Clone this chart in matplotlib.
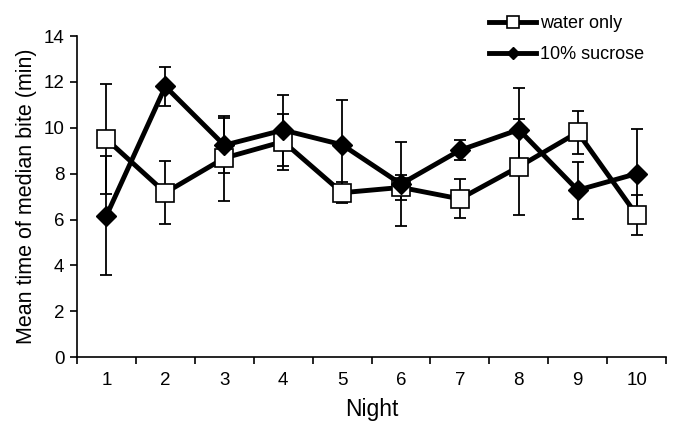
"""Mean time of median bite per night, water only vs 10% sucrose."""
import matplotlib
matplotlib.use("Agg")
import matplotlib.pyplot as plt
import numpy as np

plt.rcParams['font.family'] = ['Liberation Sans', 'DejaVu Sans']

nights = [1, 2, 3, 4, 5, 6, 7, 8, 9, 10]
water_mean = [9.5, 7.17, 8.68, 9.4, 7.17, 7.4, 6.9, 8.3, 9.8, 6.2]
water_err = [2.4, 1.38, 1.85, 1.22, 0.45, 0.55, 0.85, 2.1, 0.95, 0.87]
sucrose_mean = [6.17, 11.8, 9.24, 9.9, 9.26, 7.55, 9.02, 9.92, 7.28, 8.0]
sucrose_err = [2.6, 0.85, 1.2, 1.55, 1.95, 1.85, 0.43, 1.8, 1.25, 1.95]
y_ticks = [0, 2, 4, 6, 8, 10, 12, 14]

fig = plt.figure(figsize=(6.79, 4.34), dpi=100)
ax = fig.add_axes([0.1134, 0.177, 0.8676, 0.740])

x = np.array(nights)
ax.errorbar(x, water_mean, yerr=water_err, fmt='none', ecolor='black',
            elinewidth=1.3, capsize=4, capthick=1.3, zorder=2)
ax.errorbar(x, sucrose_mean, yerr=sucrose_err, fmt='none', ecolor='black',
            elinewidth=1.3, capsize=4, capthick=1.3, zorder=2)
ax.plot(x, water_mean, color='black', lw=3.5, marker='s', ms=13,
        mfc='white', mec='black', mew=1.2, label='water only', zorder=3)
ax.plot(x, sucrose_mean, color='black', lw=3.5, marker='D', ms=10,
        mfc='black', mec='black', label='10% sucrose', zorder=4)

ax.set_xlim(0.5, 10.5)
ax.set_ylim(0, 14)
ax.set_yticks(y_ticks)
ax.set_xticks(x)
ax.set_xticks(np.arange(0.5, 11.0, 1.0), minor=True)
ax.tick_params(axis='x', which='major', length=0, labelsize=13.5, pad=11)
ax.tick_params(axis='x', which='minor', length=5, width=1.2, direction='out')
ax.tick_params(axis='y', length=5, width=1.2, direction='out', labelsize=13.5,
               pad=4)

for side in ['top', 'right']:
    ax.spines[side].set_visible(False)
for side in ['left', 'bottom']:
    ax.spines[side].set_linewidth(1.2)

ax.set_xlabel("Night", fontsize=16.5, labelpad=6)
ax.set_ylabel("Mean time of median bite (min)", fontsize=15.5, labelpad=5)

leg = ax.legend(loc='upper right', bbox_to_anchor=(0.99, 1.115), frameon=False,
                fontsize=13, handlelength=2.6, markerscale=0.65,
                handletextpad=0.2, labelspacing=0.75)

fig.savefig("out.png", dpi=100)
